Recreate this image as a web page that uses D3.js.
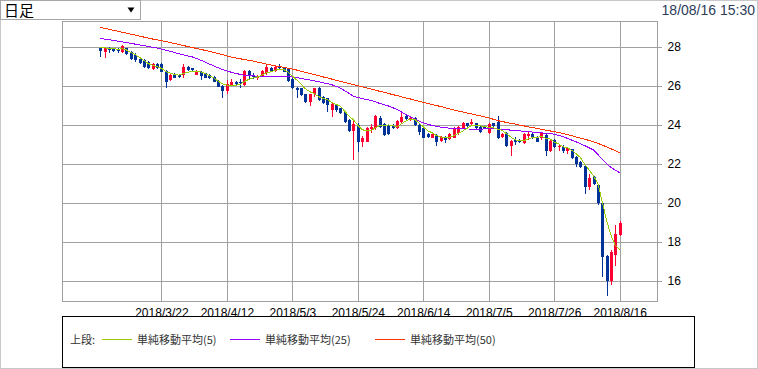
<!DOCTYPE html>
<html><head><meta charset="utf-8">
<script src="https://cdn.jsdelivr.net/npm/d3@7"></script>
<style>
html,body{margin:0;padding:0;background:#fff;}
svg{display:block;}
</style></head><body>
<svg id="chart" width="758" height="369"></svg>
<script>
// ---- data ----
const openVals = [27.92,27.75,27.95,27.92,27.88,27.75,27.92,27.75,27.57,27.40,
27.32,27.23,26.86,27.13,27.10,26.76,26.29,26.58,26.55,26.55,
26.98,26.89,26.58,26.72,26.64,26.58,26.47,26.24,26.00,25.75,
26.02,26.21,26.21,26.04,26.76,26.55,26.38,26.52,26.64,26.89,
26.76,26.96,26.89,26.86,26.34,25.90,25.87,25.56,25.15,25.60,
25.87,25.44,25.36,24.76,25.02,24.84,24.67,24.25,23.68,23.98,
23.14,23.14,23.77,23.85,24.37,24.02,23.95,23.95,23.82,24.13,
24.47,24.25,24.33,23.99,23.82,23.51,23.34,23.48,23.17,23.39,
23.27,23.34,23.56,23.82,24.07,24.02,24.07,23.90,23.90,23.56,
24.07,24.16,23.36,23.60,22.91,23.22,23.19,23.05,23.43,23.53,
23.39,23.31,23.48,22.67,23.22,22.85,22.88,22.67,22.74,22.37,
22.11,21.89,20.80,21.34,20.92,19.98,17.25,15.97,17.33,18.36];
const highVals = [27.98,28.00,28.00,27.95,27.92,28.09,27.95,27.78,27.66,27.49,
27.37,27.26,27.15,27.16,27.15,26.81,26.64,26.64,26.60,27.10,
27.03,26.93,26.80,26.76,26.68,26.62,26.50,26.28,26.05,26.29,
26.34,26.26,26.35,26.81,26.81,26.64,26.58,26.81,27.06,26.95,
27.06,27.10,26.98,26.93,26.38,25.95,25.90,25.60,25.60,25.90,
25.92,25.48,25.40,25.10,25.05,24.88,24.72,24.30,24.25,24.12,
23.42,23.90,24.02,24.50,24.45,24.07,24.00,24.02,24.25,24.67,
24.54,24.42,24.38,24.02,23.87,23.56,23.56,23.52,23.44,23.44,
23.56,23.87,23.95,24.13,24.12,24.30,24.12,23.95,23.95,24.07,
24.12,24.45,23.58,23.65,23.22,23.39,23.25,23.58,23.70,23.58,
23.43,23.65,23.56,23.22,23.26,22.97,22.97,22.85,22.78,22.42,
22.15,21.93,21.48,21.39,20.97,20.03,17.30,17.59,18.87,19.09];
const lowVals = [27.49,27.44,27.66,27.75,27.66,27.71,27.57,27.32,27.23,27.10,
26.93,26.84,26.82,26.86,26.69,25.90,26.24,26.38,26.42,26.41,
26.75,26.78,26.55,26.29,26.38,26.34,26.18,25.92,25.39,25.56,
25.98,26.04,25.87,26.00,26.35,26.35,26.28,26.48,26.58,26.72,
26.72,26.81,26.72,26.21,25.82,25.39,25.48,25.10,24.98,25.44,
25.22,25.05,24.67,24.42,24.67,24.54,24.10,23.65,22.20,22.62,
22.85,23.10,23.56,23.73,23.85,23.44,23.46,23.78,23.78,24.07,
24.25,24.20,23.95,23.48,23.30,23.34,23.30,22.93,23.12,23.05,
23.22,23.30,23.50,23.78,23.90,23.99,23.78,23.56,23.78,23.52,
23.90,23.26,23.30,22.88,22.40,22.97,23.08,23.00,23.22,23.26,
23.14,23.22,22.40,22.62,22.80,22.67,22.57,22.50,22.23,21.82,
21.80,20.46,20.66,20.90,19.89,16.22,15.20,15.77,16.77,18.30];
const closeVals = [27.78,27.95,27.83,27.80,27.78,28.04,27.61,27.40,27.32,27.15,
26.98,26.89,27.10,26.89,26.72,26.21,26.58,26.41,26.45,26.98,
26.81,26.82,26.76,26.52,26.41,26.38,26.21,25.95,25.75,26.07,
26.20,26.11,26.14,26.76,26.52,26.43,26.52,26.76,26.98,26.76,
26.98,26.89,26.72,26.24,25.87,25.78,25.53,25.15,25.56,25.87,
25.27,25.10,25.02,25.05,24.76,24.59,24.16,23.68,24.02,23.12,
23.30,23.85,23.90,24.47,23.90,23.48,23.51,23.82,24.19,24.42,
24.30,24.37,23.99,23.65,23.34,23.39,23.51,23.14,23.39,23.22,
23.51,23.82,23.90,24.07,23.95,24.16,23.82,23.61,23.82,24.02,
23.95,23.31,23.53,22.91,23.19,23.10,23.14,23.53,23.53,23.31,
23.14,23.56,22.67,23.19,22.85,22.92,22.67,22.80,22.28,21.99,
21.86,20.83,21.26,20.97,19.98,17.21,15.97,17.50,18.41,18.95];
const ma5 = [27.98,27.95,27.92,27.90,27.88,27.90,27.84,27.72,27.60,27.46,
27.30,27.15,27.05,26.98,26.90,26.74,26.66,26.58,26.55,26.63,
26.70,26.74,26.76,26.72,26.63,26.52,26.40,26.24,26.10,26.04,
26.02,26.03,26.06,26.22,26.33,26.40,26.45,26.55,26.66,26.72,
26.80,26.84,26.84,26.70,26.50,26.30,26.08,25.85,25.70,25.60,
25.45,25.35,25.30,25.15,25.05,24.95,24.70,24.45,24.25,23.98,
23.75,23.70,23.70,23.85,23.95,23.95,24.00,23.95,23.90,24.05,
24.20,24.30,24.28,24.10,23.90,23.70,23.60,23.45,23.38,23.35,
23.36,23.45,23.55,23.68,23.82,23.95,23.98,23.95,23.90,23.88,
23.86,23.78,23.72,23.55,23.38,23.24,23.18,23.18,23.28,23.34,
23.33,23.42,23.31,23.28,23.12,23.02,22.88,22.82,22.70,22.52,
22.32,21.96,21.69,21.38,20.98,20.05,19.08,18.33,17.81,17.61];
const ma25 = [28.43,28.40,28.37,28.33,28.29,28.26,28.22,28.18,28.14,28.10,
28.06,28.02,27.98,27.94,27.89,27.83,27.77,27.71,27.65,27.59,
27.54,27.49,27.41,27.32,27.22,27.12,27.02,26.93,26.84,26.76,
26.70,26.64,26.59,26.54,26.52,26.51,26.50,26.50,26.50,26.50,
26.50,26.49,26.48,26.47,26.45,26.42,26.38,26.34,26.30,26.26,
26.21,26.16,26.11,26.06,25.98,25.88,25.75,25.61,25.46,25.40,
25.35,25.30,25.25,25.18,25.10,25.04,24.97,24.88,24.78,24.66,
24.53,24.42,24.30,24.19,24.10,24.03,23.97,23.92,23.88,23.85,
23.83,23.82,23.81,23.80,23.79,23.78,23.78,23.78,23.79,23.80,
23.80,23.79,23.77,23.75,23.73,23.71,23.69,23.67,23.65,23.63,
23.61,23.59,23.57,23.55,23.52,23.46,23.39,23.31,23.22,23.13,
23.03,22.93,22.82,22.71,22.48,22.22,22.00,21.82,21.67,21.55];
const ma50 = [29.00,28.95,28.90,28.85,28.80,28.75,28.70,28.65,28.60,28.55,
28.50,28.45,28.40,28.36,28.32,28.27,28.22,28.17,28.12,28.07,
28.02,27.97,27.92,27.87,27.82,27.77,27.72,27.66,27.60,27.53,
27.47,27.43,27.39,27.35,27.31,27.27,27.22,27.17,27.12,27.07,
27.03,26.99,26.95,26.90,26.86,26.81,26.75,26.69,26.64,26.58,
26.52,26.46,26.41,26.35,26.29,26.23,26.18,26.12,26.06,26.01,
25.95,25.89,25.84,25.78,25.72,25.67,25.61,25.55,25.50,25.44,
25.38,25.33,25.27,25.21,25.16,25.10,25.05,24.99,24.94,24.88,
24.82,24.76,24.71,24.66,24.61,24.56,24.51,24.46,24.41,24.36,
24.29,24.22,24.17,24.13,24.08,24.04,23.99,23.95,23.90,23.86,
23.82,23.77,23.73,23.69,23.65,23.60,23.56,23.50,23.44,23.38,
23.32,23.26,23.20,23.13,23.05,22.96,22.87,22.77,22.67,22.57];
const tickIndex = [14,29,44,59,74,89,104,119];
const tickLabels = ["2018/3/22","2018/4/12","2018/5/3","2018/5/24","2018/6/14","2018/7/5","2018/7/26","2018/8/16"];
const yTicks = [16,18,20,22,24,26,28];
const legendLabels = ["単純移動平均(5)","単純移動平均(25)","単純移動平均(50)"];
const legendColors = ["#99cc00","#9900ff","#ff3300"];
const periodLabel = "日足";
const stampLabel = "18/08/16 15:30";
const sectionLabel = "上段:";

// ---- drawing ----
const svg = d3.select("#chart");
const L = 62.5, R = 657.5, T = 21.5, B = 301.5;
const x = d3.scaleLinear().domain([-8.65, 127.65]).range([L, R]);
const y = d3.scaleLinear().domain([14.94, 29.30]).range([B, T]);

// outer frame
svg.append("rect").attr("x",0.5).attr("y",0.5).attr("width",757).attr("height",368)
  .attr("fill","#fff").attr("stroke","#c8c8c8");

// dropdown
svg.append("rect").attr("x",0.5).attr("y",0.5).attr("width",140).attr("height",19)
  .attr("fill","#fff").attr("stroke","#a6a6a6");
svg.append("text").attr("x",4).attr("y",16).text(periodLabel)
  .attr("font-family","'Noto Sans CJK JP'").attr("font-size",15).attr("fill","#000");
svg.append("path").attr("d","M127.5,7.5 L134.5,7.5 L131,12.5 Z").attr("fill","#000");

// timestamp
svg.append("text").attr("x",755).attr("y",15).attr("text-anchor","end").text(stampLabel)
  .attr("font-family","'Liberation Sans', Arial").attr("font-size",14).attr("fill","#2e3d5a");

// grid
const g = svg.append("g").attr("shape-rendering","crispEdges");
g.selectAll("line.h").data(yTicks).join("line")
  .attr("x1",L).attr("x2",R).attr("y1",d=>Math.round(y(d))+0.5).attr("y2",d=>Math.round(y(d))+0.5)
  .attr("stroke","#a0a0a0");
g.selectAll("line.v").data(tickIndex).join("line")
  .attr("y1",T).attr("y2",B).attr("x1",d=>Math.round(x(d))+0.5).attr("x2",d=>Math.round(x(d))+0.5)
  .attr("stroke","#a0a0a0");
g.append("rect").attr("x",L).attr("y",T).attr("width",R-L).attr("height",B-T)
  .attr("fill","none").attr("stroke","#a0a0a0");

// y axis on the right
const yAxis = svg.append("g").attr("transform",`translate(${R},0)`)
  .call(d3.axisRight(y).tickValues(yTicks).tickSize(4).tickPadding(6).tickFormat(d3.format("d")));
yAxis.select(".domain").remove();
yAxis.selectAll("line").attr("stroke","#a0a0a0").attr("shape-rendering","crispEdges");
yAxis.selectAll("text").attr("font-family","'Liberation Sans', Arial").attr("font-size",12).attr("fill","#000");

// x axis labels
const xAxis = svg.append("g").attr("transform",`translate(0,${B})`)
  .call(d3.axisBottom(x).tickValues(tickIndex).tickSize(0).tickPadding(7)
    .tickFormat((d,i)=>tickLabels[i]));
xAxis.select(".domain").remove();
xAxis.selectAll("text").attr("font-family","'Liberation Sans', Arial").attr("font-size",12).attr("fill","#000");

// candles
const idx = d3.range(closeVals.length);
const cg = svg.append("g").attr("shape-rendering","crispEdges");
const col = i => closeVals[i] >= openVals[i] ? "#ff0033" : "#003399";
cg.selectAll("line.w").data(idx).join("line")
  .attr("x1",i=>Math.round(x(i))+0.5).attr("x2",i=>Math.round(x(i))+0.5)
  .attr("y1",i=>y(highVals[i])).attr("y2",i=>y(lowVals[i]))
  .attr("stroke",col);
cg.selectAll("rect.b").data(idx).join("rect")
  .attr("x",i=>Math.round(x(i))-1).attr("width",3)
  .attr("y",i=>y(Math.max(openVals[i],closeVals[i])))
  .attr("height",i=>Math.max(1, Math.abs(y(openVals[i])-y(closeVals[i]))))
  .attr("fill",col);

// moving averages
const line = d3.line().x((d,i)=>x(i)).y(d=>y(d));
[ma50, ma25, ma5].forEach((s,k)=>{
  svg.append("path").attr("d",line(s)).attr("fill","none")
    .attr("stroke",legendColors[2-k]).attr("stroke-width",1)
    .attr("shape-rendering","crispEdges");
});

// legend box
svg.append("rect").attr("x",62.5).attr("y",316.5).attr("width",632).attr("height",51)
  .attr("fill","#fff").attr("stroke","#000").attr("shape-rendering","crispEdges");
const lf = "'Noto Sans CJK JP'";
svg.append("text").attr("x",70).attr("y",343.5).text(sectionLabel)
  .attr("font-family",lf).attr("font-size",11).attr("fill","#333");
const legX = [102, 230, 375];
legendLabels.forEach((t,i)=>{
  svg.append("line").attr("x1",legX[i]).attr("x2",legX[i]+30).attr("y1",339.5).attr("y2",339.5)
    .attr("stroke",legendColors[i]).attr("shape-rendering","crispEdges");
  svg.append("text").attr("x",legX[i]+35).attr("y",343.5).text(t)
    .attr("font-family",lf).attr("font-size",11).attr("fill","#333");
});
</script>
</body></html>
